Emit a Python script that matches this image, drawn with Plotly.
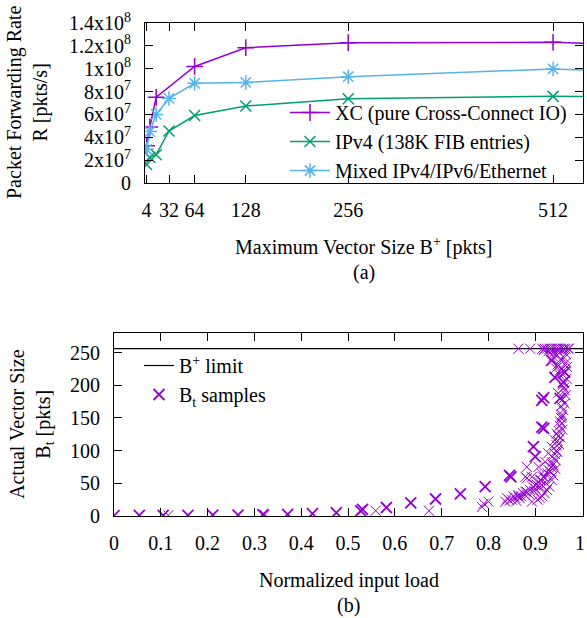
import plotly.graph_objects as go

# ---------------- data: panel (a) ----------------
VEC_SIZE_XC = [4, 8, 16, 64, 128, 256, 512, 1024]
RATE_XC = [3.25e7, 4.9e7, 7.5e7, 1.02e8, 1.184e8, 1.228e8, 1.231e8, 1.11e8]

VEC_SIZE = [4, 8, 16, 32, 64, 128, 256, 512, 1024]
RATE_IPV4 = [1.62e7, 2.25e7, 2.48e7, 4.55e7, 5.9e7, 6.74e7, 7.38e7, 7.58e7, 7.55e7]
RATE_MIXED = [2.95e7, 4.5e7, 6.0e7, 7.4e7, 8.72e7, 8.8e7, 9.3e7, 9.98e7, 8.8e7]

X_TICKS_A = [4, 32, 64, 128, 256, 512]
Y_TICKS_A = [0, 2e7, 4e7, 6e7, 8e7, 1e8, 1.2e8, 1.4e8]
Y_TICKTEXT_A = ["0", "2x10<sup>7</sup>", "4x10<sup>7</sup>", "6x10<sup>7</sup>",
                "8x10<sup>7</sup>", "1x10<sup>8</sup>", "1.2x10<sup>8</sup>",
                "1.4x10<sup>8</sup>"]

# ---------------- data: panel (b) ----------------
B_PLUS = 256

LOAD_MAIN = [0.0, 0.054, 0.105, 0.158, 0.211, 0.265, 0.318, 0.371, 0.424, 0.475,
             0.527, 0.531, 0.582, 0.634, 0.687, 0.740, 0.793, 0.845, 0.848,
             0.914, 0.914, 0.918, 0.896, 0.900, 0.918, 0.935, 0.953, 0.942,
             0.960, 0.963]
BT_MAIN = [0.5, 1, 1, 1, 1.5, 1.5, 2, 2.5, 3.5, 5,
           8, 10, 13, 20, 26, 34, 45, 62, 60,
           136, 177, 134, 106, 91, 181, 238, 180, 212,
           205, 220]

LOAD_SMALL = [0.116, 0.322, 0.559, 0.673, 0.786, 0.790, 0.800, 0.864, 0.889,
              0.836, 0.840, 0.845, 0.850, 0.853, 0.857, 0.860, 0.864, 0.867,
              0.870, 0.874, 0.878, 0.882, 0.886, 0.889, 0.893, 0.895, 0.898,
              0.900, 0.903, 0.907, 0.910, 0.912, 0.914, 0.917, 0.921, 0.924,
              0.926, 0.929, 0.932, 0.934, 0.936, 0.938, 0.940, 0.942, 0.944,
              0.945, 0.946, 0.948, 0.949, 0.950, 0.952, 0.953, 0.955, 0.956,
              0.957, 0.958, 0.954, 0.951, 0.947, 0.943, 0.939, 0.935, 0.930,
              0.925, 0.920, 0.915, 0.910, 0.905,
              0.879, 0.882, 0.882, 0.879, 0.893, 0.907, 0.914, 0.921, 0.928,
              0.935, 0.942, 0.946, 0.910, 0.900, 0.864,
              0.957, 0.960, 0.963, 0.963, 0.957, 0.950, 0.945, 0.955, 0.965,
              0.940, 0.953, 0.958, 0.965, 0.967, 0.966, 0.962, 0.968,
              0.948, 0.944, 0.952, 0.958, 0.938, 0.961, 0.955, 0.949,
              0.915, 0.920, 0.925, 0.930, 0.935, 0.940, 0.945, 0.950, 0.955,
              0.960, 0.965, 0.970, 0.918, 0.948, 0.962, 0.972, 0.928, 0.938]
BT_SMALL = [1, 2, 8, 8, 14, 19, 22, 256, 256,
            22, 27, 24, 25, 30, 28, 23, 32, 27,
            30, 35, 32, 37, 34, 40, 22, 44, 38,
            42, 48, 52, 45, 55, 47, 60, 58, 50,
            65, 70, 68, 75, 82, 78, 88, 95, 85,
            100, 108, 115, 122, 130, 138, 145, 150, 141,
            155, 132, 120, 110, 98, 72, 62, 55, 45,
            40, 35, 30, 28, 25,
            37, 58, 75, 60, 60, 75, 65, 83, 96,
            106, 116, 126, 55, 47, 30,
            152, 162, 172, 192, 225, 230, 245, 240, 248,
            250, 223, 200, 185, 210, 235, 242, 228,
            232, 226, 216, 178, 244, 196, 168, 188,
            256, 256, 256, 256, 256, 256, 256, 256, 256,
            256, 256, 256, 254, 253, 255, 256, 252, 254]

X_TICKS_B = [0, 0.1, 0.2, 0.3, 0.4, 0.5, 0.6, 0.7, 0.8, 0.9, 1]
X_TICKTEXT_B = ["0", "0.1", "0.2", "0.3", "0.4", "0.5", "0.6", "0.7", "0.8", "0.9", "1"]
Y_TICKS_B = [0, 50, 100, 150, 200, 250]

# ---------------- style ----------------
PURPLE = "#9400D3"
GREEN = "#009E73"
BLUE = "#56B4E9"
FONT = "Liberation Serif, Times New Roman, Times, serif"
W, H = 587, 618


def px(x):
    return x / W


def py(y):
    return 1 - y / H


fig = go.Figure()

fig.add_trace(go.Scatter(
    x=VEC_SIZE_XC, y=RATE_XC, mode="lines+markers",
    name="XC (pure Cross-Connect IO)",
    line=dict(color=PURPLE, width=1.5),
    marker=dict(symbol="cross-thin", size=12, line=dict(width=1.5, color=PURPLE)),
    xaxis="x", yaxis="y", legend="legend"))
fig.add_trace(go.Scatter(
    x=VEC_SIZE, y=RATE_IPV4, mode="lines+markers",
    name="IPv4 (138K FIB entries)",
    line=dict(color=GREEN, width=1.5),
    marker=dict(symbol="x-thin", size=11, line=dict(width=1.5, color=GREEN)),
    xaxis="x", yaxis="y", legend="legend"))
fig.add_trace(go.Scatter(
    x=VEC_SIZE, y=RATE_MIXED, mode="lines+markers",
    name="Mixed IPv4/IPv6/Ethernet",
    line=dict(color=BLUE, width=1.5),
    marker=dict(symbol="asterisk", size=12, line=dict(width=1.5, color=BLUE)),
    xaxis="x", yaxis="y", legend="legend"))

fig.add_trace(go.Scatter(
    x=[X_TICKS_B[0], X_TICKS_B[-1] + 0.01], y=[B_PLUS, B_PLUS], mode="lines",
    name="B<sup>+</sup> limit", line=dict(color="black", width=1.2),
    xaxis="x2", yaxis="y2", legend="legend2"))
fig.add_trace(go.Scatter(
    x=LOAD_MAIN, y=BT_MAIN, mode="markers",
    name="B<sub>t</sub> samples", legendgroup="bt",
    marker=dict(symbol="x-thin", size=11, line=dict(width=1.8, color=PURPLE)),
    xaxis="x2", yaxis="y2", legend="legend2"))
fig.add_trace(go.Scatter(
    x=LOAD_SMALL, y=BT_SMALL, mode="markers",
    name="B<sub>t</sub> samples", legendgroup="bt", showlegend=False,
    marker=dict(symbol="x-thin", size=10, line=dict(width=1, color=PURPLE)),
    xaxis="x2", yaxis="y2", legend="legend2"))

axis_common = dict(showline=True, linecolor="black", linewidth=1, mirror="ticks",
                   ticks="inside", ticklen=8, tickcolor="black", tickwidth=1,
                   showgrid=False, zeroline=False, automargin=False,
                   ticklabeloverflow="allow",
                   tickfont=dict(family=FONT, size=20, color="black"))

fig.update_layout(
    width=W, height=H,
    margin=dict(l=0, r=0, t=0, b=0, autoexpand=False),
    paper_bgcolor="white", plot_bgcolor="white",
    font=dict(family=FONT, size=20, color="black"),
    xaxis=dict(domain=[px(145), px(583)], anchor="y", range=[2, 549.4],
               tickvals=X_TICKS_A, ticklabelstandoff=9, **axis_common),
    yaxis=dict(domain=[py(183), py(23)], anchor="x", range=[0, 1.4e8],
               tickvals=Y_TICKS_A, ticktext=Y_TICKTEXT_A, ticklabelstandoff=9,
               **axis_common),
    xaxis2=dict(domain=[px(114), px(583)], anchor="y2", range=[0, 1.002],
                tickvals=X_TICKS_B, ticktext=X_TICKTEXT_B[:-1] + [""],
                ticklabelstandoff=9, **axis_common),
    yaxis2=dict(domain=[py(516), py(333)], anchor="x2", range=[0, 280],
                tickvals=Y_TICKS_B, ticklabelstandoff=9, **axis_common),
    legend=dict(x=px(572), y=py(93), xanchor="right", yanchor="top",
                bgcolor="rgba(0,0,0,0)", font=dict(family=FONT, size=20),
                tracegroupgap=0, itemwidth=40),
    legend2=dict(x=px(139), y=py(346), xanchor="left", yanchor="top",
                 bgcolor="rgba(0,0,0,0)", font=dict(family=FONT, size=20),
                 tracegroupgap=0, itemwidth=30),
    showlegend=True,
)

ann = dict(showarrow=False, xref="paper", yref="paper",
           font=dict(family=FONT, size=20, color="black"))
fig.add_annotation(text="Packet Forwarding Rate<br>R [pkts/s]", x=px(28), y=py(103),
                   textangle=-90, xanchor="center", yanchor="middle", **ann)
fig.add_annotation(text="Maximum Vector Size B<sup>+</sup> [pkts]", x=px(364), y=py(247),
                   xanchor="center", yanchor="middle", **ann)
fig.add_annotation(text="(a)", x=px(364), y=py(272), xanchor="center", yanchor="middle", **ann)
fig.add_annotation(text="Actual Vector Size<br>B<sub>t</sub> [pkts]", x=px(31), y=py(424),
                   textangle=-90, xanchor="center", yanchor="middle", **ann)
fig.add_annotation(text="Normalized input load", x=px(348.5), y=py(580),
                   xanchor="center", yanchor="middle", **ann)
fig.add_annotation(text="(b)", x=px(348.5), y=py(605), xanchor="center", yanchor="middle", **ann)
# last tick label of panel (b), which sits on the right edge of the page
fig.add_annotation(text=X_TICKTEXT_B[-1], x=px(587), y=py(543),
                   xanchor="right", yanchor="middle", **ann)

fig.write_html("out.html", config={"displayModeBar": False},
               post_script="document.body.style.margin='0px'; document.body.style.overflow='hidden';")
